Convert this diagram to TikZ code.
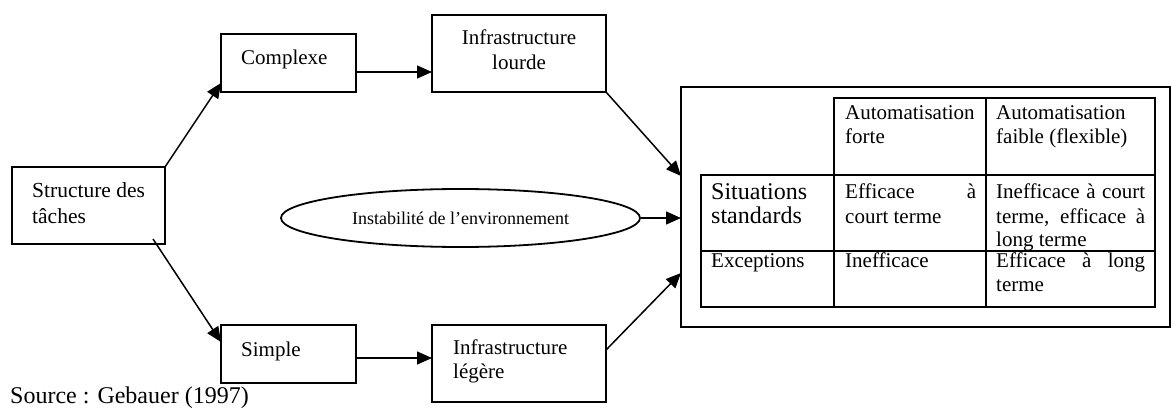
\documentclass[tikz,border=0pt]{standalone}
\usepackage{fontspec}
\setmainfont{Liberation Serif}
\usetikzlibrary{arrows.meta,shapes.geometric,calc}
\tikzset{
  box/.style={draw, line width=1.8pt, rectangle, inner sep=0pt, outer sep=0pt, anchor=north west},
  conn/.style={line width=1.5pt, -{Triangle[length=15pt,width=13pt]}},
  lbl/.style={anchor=base west, inner sep=0pt, font=\fontsize{21}{24}\selectfont},
  lblc/.style={anchor=base, inner sep=0pt, font=\fontsize{21}{24}\selectfont},
  lblbig/.style={anchor=base west, inner sep=0pt, font=\fontsize{24}{28}\selectfont},
  tabline/.style={line width=1.8pt},
}
\begin{document}
\begin{tikzpicture}[x=1pt,y=-1pt]
\useasboundingbox (0,0) rectangle (1171,409);

% boxes
\node[box, minimum width=153pt, minimum height=77pt] (struct) at (12,167) {};
\node[box, minimum width=135pt, minimum height=58pt] (complexe) at (221,34) {};
\node[box, minimum width=135pt, minimum height=58pt] (simple) at (221,325) {};
\node[box, minimum width=174pt, minimum height=77pt] (lourde) at (432,15) {};
\node[box, minimum width=174pt, minimum height=77pt] (legere) at (432,325) {};
\node[box, minimum width=489pt, minimum height=240pt] (bigbox) at (681,87) {};
\node[draw, ellipse, line width=1.8pt, minimum width=359pt, minimum height=58pt, inner sep=0pt,
      font=\fontsize{18}{20}\selectfont, yshift=2pt] (env) at (460.5,220) {Instabilité de l’environnement};

% box texts
\node[lbl, font=\fontsize{21.5}{25}\selectfont] (s1) at (32,198) {Structure des};
\node[lbl, font=\fontsize{21.5}{25}\selectfont] (s2) at (32,223) {tâches};
\node[lbl] (c1) at (241,65) {Complexe};
\node[lbl] (p1) at (241,356) {Simple};
\node[lblc] (l1) at (519,45) {Infrastructure};
\node[lblc] (l2) at (519,70) {lourde};
\node[lbl] (g1) at (453,354) {Infrastructure};
\node[lbl] (g2) at (453,378) {légère};
\node[lblbig] (src) at (10,403.5) {Source : Gebauer (1997)};

% connectors
\draw[conn] (struct.north east) -- ($(complexe.south west)+(0,-9)$);
\draw[conn] ($(struct.south east)+(-12,-5)$) -- ($(simple.north west)+(0,17)$);
\draw[conn] ($(complexe.north east)+(0,38)$) -- ($(lourde.north west)+(0,57)$);
\draw[conn] ($(simple.north east)+(0,33)$) -- ($(legere.north west)+(0,33)$);
\draw[conn] (lourde.south east) -- ($(bigbox.north west)+(0,89)$);
\draw[conn] (env.east) -- (bigbox.west |- env.east);
\draw[conn] ($(legere.north east)+(0,25)$) -- ($(bigbox.north west)+(0,186)$);

% table
\draw[tabline] (834,98) rectangle (1155,307);
\draw[tabline] (701,175) rectangle (1155,307);
\draw[tabline] (701,251) -- (1155,251);
\draw[tabline] (986,98) -- (986,307);

\node[lbl] (h1a) at (845,120) {Automatisation};
\node[lbl] (h1b) at (845,144) {forte};
\node[lbl] (h2a) at (996,120) {Automatisation};
\node[lbl] (h2b) at (996,144) {faible (flexible)};

\node[lblbig] (r1a) at (711,200) {Situations};
\node[lblbig] (r1b) at (711,224) {standards};
\node[lbl] (e1a) at (845,199) {\makebox[131pt][s]{Efficace à}};
\node[lbl] (e1b) at (845,223) {court terme};
\node[lbl] (f1a) at (996,199) {\makebox[149pt][s]{Inefficace à court}};
\node[lbl] (f1b) at (996,223) {\makebox[149pt][s]{terme, efficace à}};
\node[lbl] (f1c) at (996,247) {long terme};

\node[lbl] (r2) at (711,267) {Exceptions};
\node[lbl] (e2) at (845,267) {Inefficace};
\node[lbl] (f2a) at (996,267) {\makebox[149pt][s]{Efficace à long}};
\node[lbl] (f2b) at (996,291) {terme};
\end{tikzpicture}
\end{document}
